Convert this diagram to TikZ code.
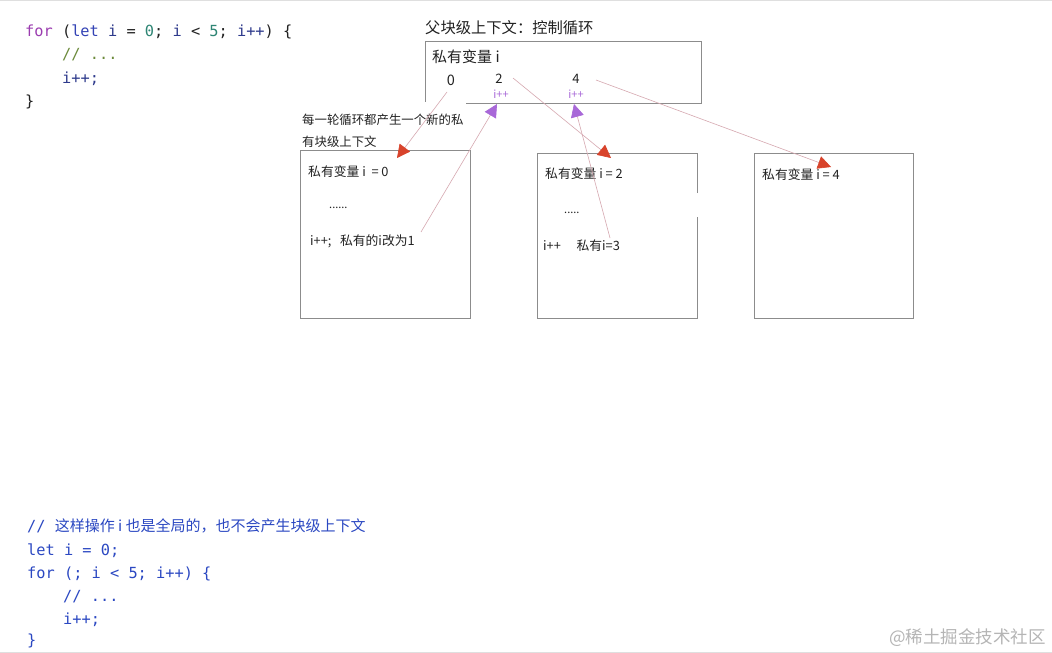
\documentclass[tikz,border=0pt]{standalone}
\usepackage{fontspec}
\setmainfont{Noto Sans CJK SC}
\newfontfamily\cjk{Noto Sans CJK SC}
\newfontfamily\codefont{DejaVu Sans Mono}
\usetikzlibrary{arrows.meta}
\definecolor{kwpurple}{HTML}{9B3DB0}
\definecolor{kwblue}{HTML}{3343B5}
\definecolor{varnavy}{HTML}{2E3A8C}
\definecolor{numteal}{HTML}{2E8574}
\definecolor{cmtolive}{HTML}{6B8A3A}
\definecolor{codeblue}{HTML}{2B48C2}
\definecolor{txtdark}{HTML}{222222}
\definecolor{boxgray}{HTML}{8C8C8C}
\definecolor{linkpink}{HTML}{D6A8B0}
\definecolor{arrowred}{HTML}{D8432B}
\definecolor{incpurple}{HTML}{A868D8}
\definecolor{wmgray}{HTML}{B5B5B5}
\begin{document}
\begin{tikzpicture}[x=1pt,y=-1pt,
  code/.style={anchor=base west, inner sep=0pt, text=txtdark, font=\codefont\fontsize{15.3}{18}\selectfont},
  lbl/.style={anchor=base west, inner sep=0pt, text=txtdark, font=\cjk\fontsize{12.8}{15}\selectfont},
  big/.style={anchor=base west, inner sep=0pt, text=txtdark, font=\cjk\fontsize{15.3}{18}\selectfont},
  num/.style={anchor=base, inner sep=0pt, text=txtdark, font=\cjk\fontsize{13}{15}\selectfont},
  inc/.style={anchor=base, inner sep=0pt, text=incpurple, font=\cjk\fontsize{11}{13}\selectfont},
  boxarea/.style={anchor=north west, inner sep=0pt, draw=none},
  boxline/.style={draw=boxgray, line width=1pt},
  redlink/.style={draw=linkpink, line width=0.6pt, -{Triangle[length=13pt,width=13pt,color=arrowred]}},
  purplelink/.style={draw=linkpink, line width=0.6pt, -{Triangle[length=13pt,width=13pt,color=incpurple]}}
]
\useasboundingbox (0,0) rectangle (1052,653);
\fill[white] (0,0) rectangle (1052,653);
\draw[gray!25, line width=1pt] (0,0.5) -- (1052,0.5);
\draw[gray!25, line width=1pt] (0,652) -- (1052,652);

% top code
\node[code] (c1) at (25,36) {\textcolor{kwpurple}{for} (\textcolor{kwblue}{let} \textcolor{varnavy}{i} = \textcolor{numteal}{0}; \textcolor{varnavy}{i} < \textcolor{numteal}{5}; \textcolor{varnavy}{i++}) \{};
\node[code, text=cmtolive] (c2) at (62,59.5) {// ...};
\node[code, text=varnavy] (c3) at (62,83) {i++;};
\node[code] (c4) at (25,106) {\}};

% parent context
\node[big] (ptitle) at (425,33) {父块级上下文：控制循环};
\node[boxarea, minimum width=276pt, minimum height=62pt] (parent) at (425,41) {};
\draw[boxline] ([xshift=41pt]parent.south west) -- (parent.south east) -- (parent.north east) -- (parent.north west) -- ([yshift=1pt]parent.south west);
\node[big, font=\cjk\fontsize{15}{18}\selectfont] (pvar) at (432,62) {私有变量 i};
\node[num, font=\cjk\fontsize{14.5}{16}\selectfont] (n0) at (451,85) {0};
\node[num] (n2) at (499,83) {2};
\node[num] (n4) at (576,83) {4};
\node[inc] (inc2) at (501,98) {i++};
\node[inc] (inc4) at (576,98) {i++};

% annotation
\node[lbl, font=\cjk\fontsize{12.4}{15}\selectfont] (note1) at (302,124) {每一轮循环都产生一个新的私};
\node[lbl, font=\cjk\fontsize{12.4}{15}\selectfont] (note2) at (302,146) {有块级上下文};

% box 1
\node[boxarea, draw=boxgray, line width=1pt, minimum width=170pt, minimum height=168pt] (box1) at (300,150) {};
\node[lbl] (b1a) at (308,176) {私有变量 i \ = 0};
\node[lbl, font=\cjk\fontsize{11}{12}\selectfont] (b1b) at (329,208) {......};
\node[lbl] (b1c) at (310,245) {i++; \ \ 私有的i改为1};

% box 2
\node[boxarea, minimum width=160pt, minimum height=165pt] (box2) at (537,153) {};
\draw[boxline] ([yshift=-40pt]box2.north east) -- (box2.north east) -- (box2.north west) -- (box2.south west) -- (box2.south east) -- ([yshift=101pt]box2.south east);
\node[lbl] (b2a) at (545,178) {私有变量 i = 2};
\node[lbl, font=\cjk\fontsize{11}{12}\selectfont] (b2b) at (564,213) {.....};
\node[lbl] (b2c) at (543,250) {i++ \quad 私有i=3};

% box 3
\node[boxarea, draw=boxgray, line width=1pt, minimum width=159pt, minimum height=165pt] (box3) at (754,153) {};
\node[lbl] (b3a) at (762,179) {私有变量 i = 4};

% connectors
\coordinate (s0) at (447,92);
\coordinate (t0) at (397,158);
\coordinate (s1) at (421,232);
\coordinate (t1) at (497,104);
\coordinate (s2) at (513,78);
\coordinate (t2) at (611,158);
\coordinate (s3) at (610,238);
\coordinate (t3) at (574,104);
\coordinate (s4) at (596,80);
\coordinate (t4) at (831,167);
\draw[redlink] (s0) -- (t0);
\draw[purplelink] (s1) -- (t1);
\draw[redlink] (s2) -- (t2);
\draw[purplelink] (s3) -- (t3);
\draw[redlink] (s4) -- (t4);

% bottom code
\node[code, text=codeblue] (d1) at (27,531) {//\ {\cjk\fontsize{15}{18}\selectfont 这样操作 i 也是全局的，也不会产生块级上下文}};
\node[code, text=codeblue] (d2) at (27,555) {let i = 0;};
\node[code, text=codeblue] (d3) at (27,578) {for (; i < 5; i++) \{};
\node[code, text=codeblue] (d4) at (63,601) {// ...};
\node[code, text=codeblue] (d5) at (63,624) {i++;};
\node[code, text=codeblue] (d6) at (27,645) {\}};

% watermark
\node[anchor=base east, inner sep=0pt, text=wmgray, font=\cjk\fontsize{17.5}{20}\selectfont] (wm) at (1046,643) {@稀土掘金技术社区};
\end{tikzpicture}
\end{document}
